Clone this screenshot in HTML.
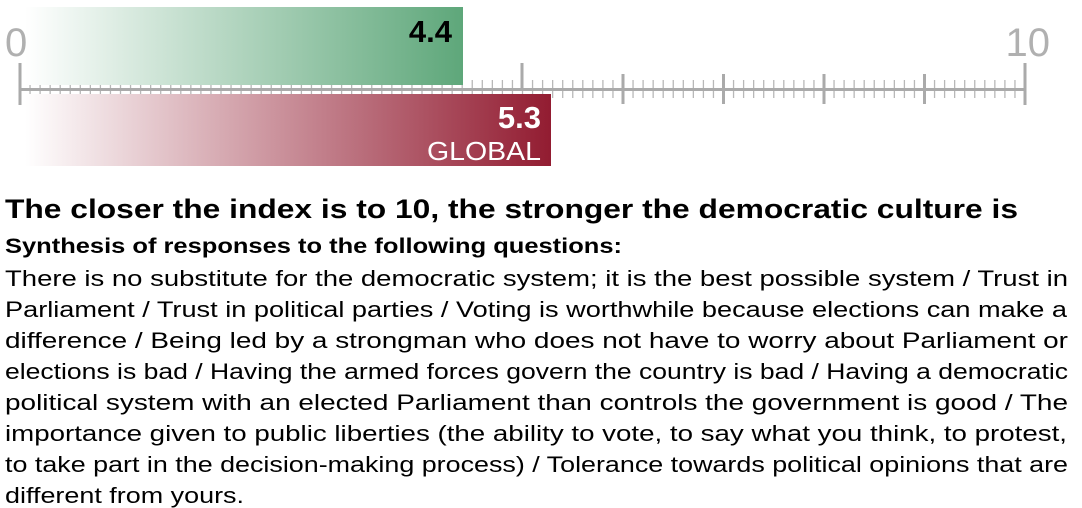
<!DOCTYPE html>
<html><head><meta charset="utf-8"><style>
body{margin:0;background:#fff;}
svg{display:block;font-family:"Liberation Sans",sans-serif;}
</style></head><body>
<svg width="1082" height="508" viewBox="0 0 1082 508">
<defs>
<linearGradient id="g" x1="0" x2="1"><stop offset="0" stop-color="#fff"/><stop offset="1" stop-color="#5ea77a"/></linearGradient>
<linearGradient id="r" x1="0" x2="1"><stop offset="0" stop-color="#fff"/><stop offset="1" stop-color="#921c31"/></linearGradient>
<g id="m">
<line x1="0" x2="0" y1="80" y2="98"/><line x1="10.05" x2="10.05" y1="80" y2="98"/><line x1="20.1" x2="20.1" y1="80" y2="98"/><line x1="30.15" x2="30.15" y1="80" y2="98"/><line x1="40.2" x2="40.2" y1="80" y2="98"/><line x1="50.25" x2="50.25" y1="80" y2="98"/><line x1="60.3" x2="60.3" y1="80" y2="98"/><line x1="70.35" x2="70.35" y1="80" y2="98"/><line x1="80.4" x2="80.4" y1="80" y2="98"/><line x1="90.45" x2="90.45" y1="80" y2="98"/>
</g>
</defs>
<g stroke="#b8b8b8" stroke-width="1.3">
<use href="#m" x="20"/><use href="#m" x="120.5"/><use href="#m" x="221"/><use href="#m" x="321.5"/><use href="#m" x="422"/>
<use href="#m" x="522.5"/><use href="#m" x="623"/><use href="#m" x="723.5"/><use href="#m" x="824"/><use href="#m" x="924.5"/>
</g>
<g stroke="#aaa" stroke-width="3">
<line x1="20" x2="20" y1="63" y2="105"/>
<line x1="623" x2="623" y1="74" y2="104"/><line x1="723.5" x2="723.5" y1="74" y2="104"/>
<line x1="824" x2="824" y1="74" y2="104"/><line x1="924.5" x2="924.5" y1="74" y2="104"/>
<line x1="1025" x2="1025" y1="63" y2="105"/>
<line x1="522" x2="522" y1="63" y2="89"/>
</g>
<rect x="20" y="88" width="1005" height="3" fill="#aaa"/>
<rect x="25" y="7" width="438" height="78" fill="url(#g)"/>
<rect x="25" y="94" width="526" height="72" fill="url(#r)"/>
<text x="5" y="56" font-size="40" fill="#b0b0b0">0</text>
<text x="1050" y="56" font-size="40" fill="#b0b0b0" text-anchor="end">10</text>
<text x="452" y="42" font-size="31" font-weight="bold" text-anchor="end">4.4</text>
<text x="541" y="128" font-size="31" font-weight="bold" fill="#fff" text-anchor="end">5.3</text>
<text x="541" y="160" font-size="26" fill="#fff" text-anchor="end" textLength="114" lengthAdjust="spacingAndGlyphs">GLOBAL</text>
<text x="5" y="218" font-size="27" font-weight="bold" textLength="1013" lengthAdjust="spacingAndGlyphs">The closer the index is to 10, the stronger the democratic culture is</text>
<text x="5" y="253" font-size="21" font-weight="bold" textLength="617" lengthAdjust="spacingAndGlyphs">Synthesis of responses to the following questions:</text>
<g font-size="22.5">
<text x="5" y="286" textLength="1063" lengthAdjust="spacingAndGlyphs">There is no substitute for the democratic system; it is the best possible system / Trust in</text>
<text x="5" y="317" textLength="1062" lengthAdjust="spacingAndGlyphs">Parliament / Trust in political parties / Voting is worthwhile because elections can make a</text>
<text x="5" y="348" textLength="1063" lengthAdjust="spacingAndGlyphs">difference / Being led by a strongman who does not have to worry about Parliament or</text>
<text x="5" y="379" textLength="1063" lengthAdjust="spacingAndGlyphs">elections is bad / Having the armed forces govern the country is bad / Having a democratic</text>
<text x="5" y="410" textLength="1063" lengthAdjust="spacingAndGlyphs">political system with an elected Parliament than controls the government is good / The</text>
<text x="5" y="441" textLength="1062" lengthAdjust="spacingAndGlyphs">importance given to public liberties (the ability to vote, to say what you think, to protest,</text>
<text x="5" y="472" textLength="1063" lengthAdjust="spacingAndGlyphs">to take part in the decision-making process) / Tolerance towards political opinions that are</text>
<text x="5" y="503" textLength="239" lengthAdjust="spacingAndGlyphs">different from yours.</text>
</g>
</svg>
</body></html>
